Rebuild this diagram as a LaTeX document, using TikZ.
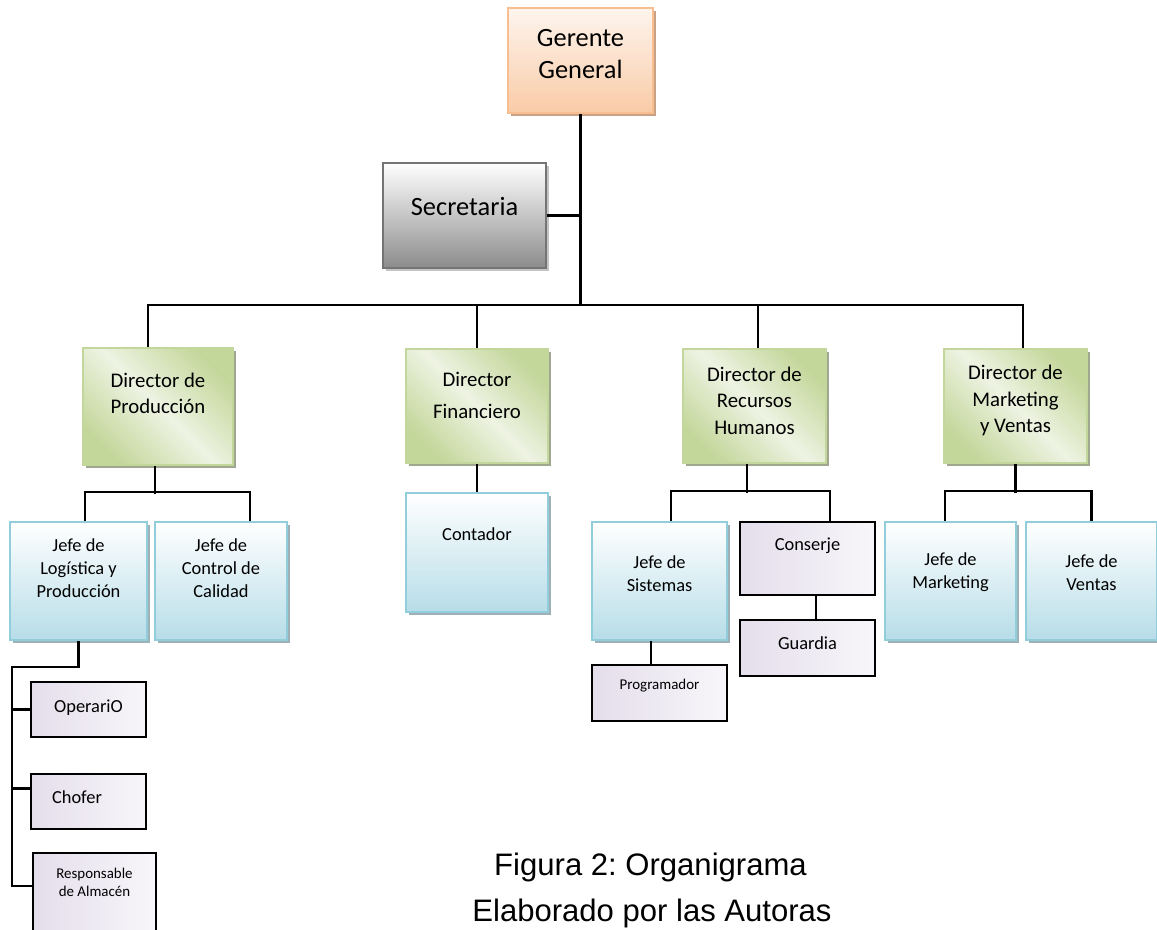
\documentclass[tikz,border=0pt]{standalone}
\usepackage{fontspec}
\setmainfont{Carlito}
\newfontfamily\capfont{Liberation Sans}
\usetikzlibrary{shadows}
\frenchspacing

\definecolor{orline}{HTML}{F9BE8F}
\definecolor{orlite}{HTML}{FEF5EE}
\definecolor{ordark}{HTML}{F9CBA7}
\definecolor{orshad}{HTML}{C9A285}
\definecolor{seline}{HTML}{747474}
\definecolor{sedark}{HTML}{8C8C8C}
\definecolor{seshad}{HTML}{C4C4C4}
\definecolor{grline}{HTML}{C3D69B}
\definecolor{grdark}{HTML}{C4D79B}
\definecolor{grlite}{HTML}{EEF3E3}
\definecolor{grshad}{HTML}{A0A78F}
\definecolor{blline}{HTML}{92CDDC}
\definecolor{bldark}{HTML}{B7DDE8}
\definecolor{blshad}{HTML}{9DB1B7}
\definecolor{lvdark}{HTML}{E4DEEB}
\definecolor{lvlite}{HTML}{F8F6FA}

\begin{document}
\begin{tikzpicture}[x=0.75pt, y=-0.75pt,
    every node/.style={inner sep=0pt},
    conn/.style={line width=2.1pt, black},
    shad/.style={drop shadow={shadow xshift=2.6pt, shadow yshift=-2.6pt, fill=#1, opacity=1}},
    orbox/.style={draw=orline, line width=1.5pt, top color=orlite, bottom color=ordark, shad=orshad,
        minimum width=108.75pt, minimum height=78.75pt},
    sebox/.style={draw=seline, line width=1.5pt, top color=white, bottom color=sedark, shad=seshad,
        minimum width=122.25pt, minimum height=78.75pt},
    grbox/.style={draw=grline, line width=1.5pt, left color=grdark, right color=grdark, middle color=grlite,
        shading angle=135, shad=grshad, minimum width=107.25pt, minimum height=85.5pt},
    blbox/.style={draw=blline, line width=1.5pt, top color=white, bottom color=bldark, shad=blshad,
        minimum width=101.25pt, minimum height=88.5pt},
    lvbox/.style={draw=black, line width=1.7pt, left color=lvdark, right color=lvlite,
        minimum width=101.25pt, minimum height=42pt},
    bigtxt/.style={font=\fontsize{19.8}{24}\selectfont, align=center},
    dirtxt/.style={font=\fontsize{15.6}{20}\selectfont, align=center},
    jeftxt/.style={font=\fontsize{13.8}{17.3}\selectfont, align=center},
    smltxt/.style={font=\fontsize{11.2}{13.5}\selectfont, align=center},
    captxt/.style={font=\capfont\fontsize{23.3}{28}\selectfont}
    ]
\useasboundingbox (0,0) rectangle (1157,929);
\clip (0,0) rectangle (1157,929);
% Gerente y Secretaria
\node[orbox, label={[bigtxt, yshift=5pt]center:{Gerente\\General}}] (gg) at (580.5,60.5) {};
\node[sebox, label={[bigtxt, yshift=7pt]center:Secretaria}] (sec) at (464.5,215.5) {};
% Directores
\node[grbox, minimum width=112.5pt, minimum height=87.75pt,
    label={[dirtxt, yshift=9.75pt]center:{Director de\\Producción}}] (dp) at (158,406.5) {};
\node[grbox, minimum width=106.5pt,
    label={[dirtxt, font=\fontsize{15.6}{24}\selectfont, yshift=8pt]center:{Director\\Financiero}}] (df) at (477,406) {};
\node[grbox, label={[dirtxt, yshift=4pt]center:{Director de\\Recursos\\Humanos}}] (drh) at (754.5,406) {};
\node[grbox, label={[dirtxt, yshift=4pt]center:{Director de\\Marketing\\y Ventas}}] (dmv) at (1015.5,406) {};
% Jefes
\node[blbox, minimum width=102.75pt,
    label={[jeftxt, yshift=9.4pt]center:{Jefe de\\Logística y\\Producción}}] (jl) at (78.5,581) {};
\node[blbox, minimum width=99pt,
    label={[jeftxt, yshift=9.4pt]center:{Jefe de\\Control de\\Calidad}}] (jc) at (221,581) {};
\node[blbox, minimum width=106.5pt, minimum height=89.25pt,
    label={[jeftxt, yshift=13.9pt]center:Contador}] (cont) at (477,552.5) {};
\node[blbox, label={[jeftxt, yshift=5.6pt]center:{Jefe de\\Sistemas}}] (js) at (659.5,581) {};
\node[blbox, minimum width=98.25pt,
    label={[jeftxt, yshift=6.4pt]center:{Jefe de\\Marketing}}] (jm) at (950.5,581) {};
\node[blbox, minimum width=98.25pt,
    label={[jeftxt, yshift=6.4pt]center:{Jefe de\\Ventas}}] (jv) at (1091.5,581) {};
% Personal
\node[lvbox, minimum height=54.75pt, label={[jeftxt, yshift=9.4pt]center:Conserje}] (cons) at (807.5,558.5) {};
\node[lvbox, label={[jeftxt, yshift=3.4pt]center:Guardia}] (guard) at (807.5,648) {};
\node[lvbox, label={[smltxt, yshift=5.2pt]center:Programador}] (prog) at (659.5,693) {};
\node[lvbox, minimum width=86.25pt, minimum height=41.25pt,
    label={[jeftxt, yshift=1.5pt]center:OperariO}] (op) at (88.5,709.5) {};
\node[lvbox, minimum width=86.25pt, minimum height=41.25pt,
    label={[jeftxt, xshift=-8.6pt, yshift=3.4pt]center:Chofer}] (ch) at (88.5,801.5) {};
\node[lvbox, minimum width=92.25pt, minimum height=65.25pt,
    label={[smltxt, yshift=10.9pt]center:{Responsable\\de Almacén}}] (resp) at (94.5,896.5) {};
% lineas
\draw[conn] (gg.south) -- ++(0,191) coordinate (bar);
\draw[conn] (sec.east) -- (sec.east -| bar);
\draw[conn] ([xshift=-7.5pt]dp.north) |- (bar) -| ([xshift=5.6pt]dmv.north);
\draw[conn] (df.north) -- (df.north |- bar);
\draw[conn] ([xshift=2.6pt]drh.north) -- ([xshift=2.6pt]drh.north |- bar);
\draw[conn] ([xshift=-2.25pt]dp.south) -- ++(0,28);
\draw[conn] ([xshift=4.9pt]jl.north) -- ++(0,-29) -| ([xshift=21.75pt]jc.north);
\coordinate (spine) at (12,667);
\draw[conn] (jl.south) |- (spine) |- ([yshift=7.9pt]resp.west);
\draw[conn] (op.west) -- (op.west -| spine);
\draw[conn] ([yshift=10pt]ch.west) -- ([yshift=10pt]ch.west -| spine);
\draw[conn] (df.south) -- (cont.north);
\draw[conn] ([xshift=-5.6pt]drh.south) -- ++(0,29);
\draw[conn] ([xshift=8.6pt]js.north) -- ++(0,-30) -| ([xshift=16.9pt]cons.north);
\draw[conn] ([xshift=6.4pt]cons.south) -- ([xshift=6.4pt]guard.north);
\draw[conn] ([xshift=-6.4pt]js.south) -- ([xshift=-6.4pt]prog.north);
\draw[conn] (dmv.south) -- ++(0,29);
\draw[conn] ([xshift=-4.1pt]jm.north) -- ++(0,-30) -| (jv.north);
% pie
\node[captxt, anchor=base] (fig) at (650.5,875) {Figura 2: Organigrama};
\node[captxt, anchor=base] (src) at (652,921) {Elaborado por las Autoras};
\end{tikzpicture}
\end{document}
